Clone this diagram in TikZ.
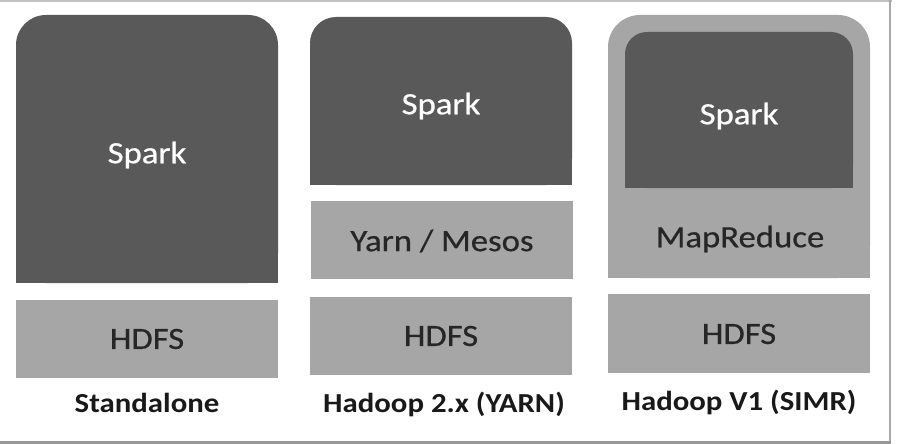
\documentclass[tikz,border=0pt]{standalone}
\usepackage{fontspec}
\setmainfont{Carlito}[FakeStretch=1.12,UprightFeatures={FakeBold=0.6}]
\definecolor{darkbox}{HTML}{595959}
\definecolor{lightbox}{HTML}{A6A6A6}
\definecolor{boxtext}{HTML}{262626}
\definecolor{framegray}{HTML}{A8A8A8}
\begin{document}
\begin{tikzpicture}[x=1pt,y=-1pt,
  darkfill/.style={fill=darkbox},
  lightfill/.style={fill=lightbox},
  sparktext/.style={text=white,font=\fontsize{31}{36}\selectfont,inner sep=0pt},
  layertext/.style={text=boxtext,font=\fontsize{31}{36}\selectfont,inner sep=0pt},
  captext/.style={text=black!90,font=\bfseries\fontsize{27.5}{32}\selectfont,inner sep=0pt}
]
\useasboundingbox (0,0) rectangle (897,444);
\fill[white] (0,0) rectangle (897,444);
% frame
\fill[framegray!70] (0,0) rectangle (892,2.2);
\fill[framegray] (888.5,0) rectangle (891,444);
\fill[framegray!120] (0,440.5) rectangle (891,444);

% Column 1: Standalone
\fill[darkfill,rounded corners=30pt] (16,15) rectangle (278,283);
\fill[darkfill] (16,100) rectangle (278,283);
\node[sparktext] (spark1) at (147,155) {Spark};
\fill[lightfill] (16,300) rectangle (278,378);
\node[layertext] (hdfs1) at (147,339) {HDFS};
\node[captext] (cap1) at (147,403) {Standalone};

% Column 2: Hadoop 2.x (YARN)
\fill[darkfill,rounded corners=26pt] (310,17) rectangle (572,185);
\fill[darkfill] (310,80) rectangle (572,185);
\node[sparktext] (spark2) at (441,106) {Spark};
\fill[lightfill] (311,201) rectangle (573,279);
\node[layertext] (yarn) at (442,241) {Yarn / Mesos};
\fill[lightfill] (310,297) rectangle (572,375);
\node[layertext] (hdfs2) at (441,336) {HDFS};
\node[captext] (cap2) at (444,404) {Hadoop 2.x (YARN)};

% Column 3: Hadoop V1 (SIMR)
\fill[lightfill,rounded corners=32pt] (608,15) rectangle (870,278);
\fill[lightfill] (608,100) rectangle (870,278);
\fill[darkfill,rounded corners=22pt] (625,32) rectangle (853,188);
\fill[darkfill] (625,90) rectangle (853,188);
\node[sparktext] (spark3) at (739,116) {Spark};
\node[layertext] (mapred) at (740,239) {MapReduce};
\fill[lightfill] (608,294) rectangle (870,373);
\node[layertext] (hdfs3) at (739,334) {HDFS};
\node[captext] (cap3) at (739,402) {Hadoop V1 (SIMR)};
\end{tikzpicture}
\end{document}
